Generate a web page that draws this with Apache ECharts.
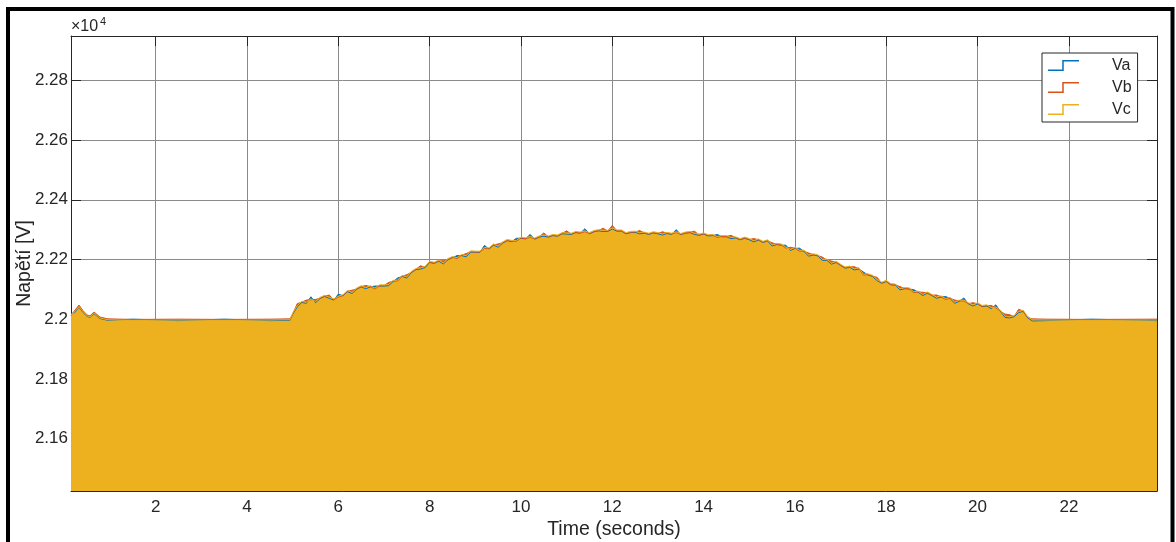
<!DOCTYPE html>
<html>
<head>
<meta charset="utf-8">
<script src="https://cdn.jsdelivr.net/npm/echarts@6/dist/echarts.min.js"></script>
<style>
  html, body { margin: 0; padding: 0; background: #ffffff; }
  #chart { width: 1176px; height: 542px; }
</style>
</head>
<body>
<div id="chart"></div>
<script>
// Three-phase voltage peaks over a 24 s run (volts).
const times = [
  0.145, 0.23, 0.32, 0.41, 0.5, 0.56, 0.65, 0.78, 0.95, 1.5, 2.5, 3.5, 4.5, 4.94,
  5.0, 5.1, 5.2, 5.3, 5.4, 5.5, 5.6, 5.7, 5.8, 5.9,
  6.0, 6.1, 6.2, 6.3, 6.4, 6.5, 6.6, 6.7, 6.8, 6.9,
  7.0, 7.1, 7.2, 7.3, 7.4, 7.5, 7.6, 7.7, 7.8, 7.9,
  8.0, 8.1, 8.2, 8.3, 8.4, 8.5, 8.6, 8.7, 8.8, 8.9,
  9.0, 9.1, 9.2, 9.3, 9.4, 9.5, 9.6, 9.7, 9.8, 9.9,
  10.0, 10.1, 10.2, 10.3, 10.4, 10.5, 10.6, 10.7, 10.8, 10.9,
  11.0, 11.1, 11.2, 11.3, 11.4, 11.5, 11.6, 11.7, 11.8, 11.9,
  12.0, 12.1, 12.2, 12.3, 12.4, 12.5, 12.6, 12.7, 12.8, 12.9,
  13.0, 13.1, 13.2, 13.3, 13.4, 13.5, 13.6, 13.7, 13.8, 13.9,
  14.0, 14.1, 14.2, 14.3, 14.4, 14.5, 14.6, 14.7, 14.8, 14.9,
  15.0, 15.1, 15.2, 15.3, 15.4, 15.5, 15.6, 15.7, 15.8, 15.9,
  16.0, 16.1, 16.2, 16.3, 16.4, 16.5, 16.6, 16.7, 16.8, 16.9,
  17.0, 17.1, 17.2, 17.3, 17.4, 17.5, 17.6, 17.7, 17.8, 17.9,
  18.0, 18.1, 18.2, 18.3, 18.4, 18.5, 18.6, 18.7, 18.8, 18.9,
  19.0, 19.1, 19.2, 19.3, 19.4, 19.5, 19.6, 19.7, 19.8, 19.9,
  20.0, 20.1, 20.2, 20.3, 20.4, 20.5, 20.6, 20.7, 20.8, 20.9,
  21.0, 21.1, 21.2,
  21.5, 22.5, 23.93
];

const vaValues = [
  22019, 22022, 22040, 22022, 22009, 22006, 22018, 22002, 21996, 22000, 21995, 22000, 21995, 21996,
  22016, 22041, 22056, 22053, 22075, 22055, 22069, 22076, 22070, 22064,
  22084, 22078, 22092, 22086, 22100, 22108, 22102, 22108, 22111, 22111,
  22111, 22112, 22126, 22138, 22143, 22138, 22156, 22166, 22168, 22173,
  22190, 22187, 22194, 22185, 22199, 22206, 22213, 22213, 22209, 22225,
  22224, 22224, 22247, 22235, 22248, 22241, 22255, 22263, 22260, 22271,
  22271, 22269, 22284, 22268, 22275, 22278, 22275, 22280, 22278, 22286,
  22285, 22284, 22290, 22288, 22303, 22286, 22293, 22296, 22294, 22294,
  22302, 22295, 22295, 22286, 22290, 22291, 22286, 22288, 22284, 22289,
  22286, 22282, 22287, 22284, 22300, 22283, 22288, 22290, 22284, 22281,
  22285, 22279, 22280, 22284, 22276, 22276, 22270, 22272, 22266, 22271,
  22266, 22259, 22265, 22257, 22262, 22245, 22250, 22248, 22248, 22230,
  22237, 22238, 22227, 22211, 22215, 22212, 22197, 22197, 22184, 22190,
  22180, 22171, 22174, 22165, 22168, 22158, 22148, 22143, 22129, 22120,
  22126, 22115, 22114, 22098, 22102, 22101, 22099, 22090, 22079, 22087,
  22079, 22070, 22074, 22076, 22069, 22053, 22060, 22071, 22051, 22044,
  22051, 22042, 22044, 22035, 22048, 22026, 22006, 22004, 22008, 22022,
  22026, 22004, 21994,
  21995, 22000, 21995
];

const vbValues = [
  22012, 22030, 22047, 22028, 22014, 22011, 22024, 22007, 22001, 21999, 22000, 21999, 22000, 22001,
  22017, 22052, 22057, 22064, 22065, 22066, 22070, 22077, 22081, 22065,
  22074, 22079, 22093, 22097, 22101, 22109, 22113, 22109, 22101, 22112,
  22112, 22123, 22127, 22128, 22144, 22149, 22157, 22167, 22179, 22174,
  22191, 22188, 22195, 22196, 22200, 22207, 22203, 22214, 22220, 22226,
  22225, 22225, 22237, 22236, 22249, 22252, 22256, 22264, 22261, 22261,
  22272, 22270, 22274, 22269, 22276, 22289, 22276, 22281, 22279, 22287,
  22296, 22285, 22291, 22289, 22293, 22287, 22294, 22297, 22305, 22295,
  22314, 22296, 22296, 22287, 22291, 22292, 22297, 22289, 22285, 22290,
  22287, 22293, 22288, 22285, 22290, 22284, 22289, 22291, 22295, 22282,
  22286, 22280, 22281, 22274, 22277, 22277, 22281, 22273, 22267, 22272,
  22267, 22270, 22266, 22258, 22263, 22256, 22251, 22249, 22238, 22241,
  22238, 22228, 22228, 22222, 22216, 22213, 22208, 22198, 22195, 22191,
  22181, 22172, 22175, 22176, 22169, 22148, 22149, 22144, 22140, 22121,
  22127, 22116, 22115, 22109, 22103, 22102, 22089, 22091, 22090, 22088,
  22080, 22081, 22075, 22066, 22070, 22064, 22061, 22061, 22052, 22055,
  22052, 22043, 22045, 22046, 22038, 22027, 22017, 22015, 22009, 22033,
  22027, 22005, 22001,
  22000, 21999, 22000
];

const vcValues = [
  22015, 22025, 22042, 22025, 22011, 22008, 22020, 22004, 21998, 21996, 21997, 21996, 21997, 21998,
  22020, 22045, 22060, 22057, 22068, 22059, 22073, 22080, 22074, 22068,
  22077, 22082, 22096, 22090, 22104, 22112, 22106, 22112, 22104, 22115,
  22115, 22116, 22130, 22131, 22147, 22142, 22160, 22170, 22172, 22177,
  22194, 22191, 22198, 22189, 22203, 22210, 22206, 22217, 22213, 22229,
  22228, 22228, 22240, 22239, 22252, 22245, 22259, 22267, 22264, 22264,
  22275, 22273, 22277, 22272, 22279, 22282, 22279, 22284, 22282, 22290,
  22289, 22288, 22294, 22292, 22296, 22290, 22297, 22300, 22298, 22298,
  22306, 22299, 22299, 22290, 22294, 22295, 22290, 22292, 22288, 22293,
  22290, 22286, 22291, 22288, 22293, 22287, 22292, 22294, 22288, 22285,
  22289, 22283, 22284, 22277, 22280, 22280, 22274, 22276, 22270, 22275,
  22270, 22263, 22269, 22261, 22266, 22249, 22254, 22252, 22241, 22234,
  22241, 22231, 22231, 22215, 22219, 22216, 22201, 22201, 22188, 22194,
  22184, 22175, 22178, 22169, 22172, 22151, 22152, 22147, 22133, 22124,
  22130, 22119, 22118, 22102, 22106, 22105, 22092, 22094, 22083, 22091,
  22083, 22074, 22078, 22069, 22073, 22057, 22064, 22064, 22055, 22048,
  22055, 22046, 22048, 22039, 22041, 22030, 22010, 22008, 22012, 22026,
  22030, 22008, 21998,
  21997, 21996, 21997
];

const seriesNames = ['Va', 'Vb', 'Vc'];
const seriesColors = ['#0072BD', '#D95319', '#EDB120'];
const seriesValues = [vaValues, vbValues, vcValues];

// Axis ranges and tick spacing
const timeRange = [0.145, 23.93];
const voltRange = [21424, 22949];
const timeStep = 2;
const voltStep = 200;

const FONT = '"Liberation Sans", Arial, Helvetica, sans-serif';
const INK = '#262626';
const GRID_GRAY = '#8a8a8a';
// Step-shaped legend glyph
const STEP_ICON = 'path://M0,9.5L14.25,9.5L14.25,0L31,0L31,1.5L15.75,1.5L15.75,11L0,11Z';

const chart = echarts.init(document.getElementById('chart'), null, { renderer: 'canvas' });

const tickStyle = { show: true, inside: true, length: 10, lineStyle: { color: INK, width: 1 } };
const lineStyle = { show: true, lineStyle: { color: INK, width: 1 } };

const option = {
  backgroundColor: '#ffffff',
  animation: false,
  grid: { left: 71, right: 19, top: 36, bottom: 51, containLabel: false, outerBoundsMode: 'none' },
  legend: {
    data: seriesNames,
    orient: 'vertical',
    left: 1042,
    top: 53,
    icon: STEP_ICON,
    itemWidth: 31,
    itemHeight: 11,
    itemGap: 6,
    padding: [4.5, 6, 4.5, 6],
    backgroundColor: '#ffffff',
    borderColor: INK,
    borderWidth: 1,
    borderRadius: 0,
    selectedMode: false,
    textStyle: { fontFamily: FONT, fontSize: 16, color: INK, lineHeight: 16, padding: [0, 0, 0, 28] }
  },
  xAxis: [
    {
      type: 'value',
      position: 'bottom',
      min: timeRange[0],
      max: timeRange[1],
      minInterval: timeStep,
      maxInterval: timeStep,
      name: 'Time (seconds)',
      nameLocation: 'middle',
      nameGap: 29,
      nameMoveOverlap: false,
      nameTextStyle: { fontFamily: FONT, fontSize: 19.5, color: INK },
      axisLine: lineStyle,
      axisTick: tickStyle,
      axisLabel: {
        fontFamily: FONT, fontSize: 17, color: INK, margin: 8,
        showMinLabel: false, showMaxLabel: false
      },
      splitLine: { show: true, lineStyle: { color: GRID_GRAY, width: 1 } }
    },
    {
      type: 'value',
      position: 'top',
      min: timeRange[0],
      max: timeRange[1],
      minInterval: timeStep,
      maxInterval: timeStep,
      axisLine: lineStyle,
      axisTick: tickStyle,
      axisLabel: { show: false },
      splitLine: { show: false }
    }
  ],
  yAxis: [
    {
      type: 'value',
      position: 'left',
      min: voltRange[0],
      max: voltRange[1],
      minInterval: voltStep,
      maxInterval: voltStep,
      name: 'Napětí [V]',
      nameLocation: 'middle',
      nameRotate: 90,
      nameGap: 36,
      nameMoveOverlap: false,
      nameTextStyle: { fontFamily: FONT, fontSize: 19.5, color: INK },
      axisLine: lineStyle,
      axisTick: tickStyle,
      axisLabel: {
        fontFamily: FONT, fontSize: 17, color: INK, margin: 3,
        showMinLabel: false, showMaxLabel: false,
        formatter: (v) => String(parseFloat((v / 1e4).toFixed(2)))
      },
      splitLine: { show: true, lineStyle: { color: GRID_GRAY, width: 1 } }
    },
    {
      type: 'value',
      position: 'right',
      min: voltRange[0],
      max: voltRange[1],
      minInterval: voltStep,
      maxInterval: voltStep,
      axisLine: lineStyle,
      axisTick: tickStyle,
      axisLabel: { show: false },
      splitLine: { show: false }
    }
  ],
  series: seriesNames.map((name, i) => ({
    type: 'line',
    name: name,
    xAxisIndex: 0,
    yAxisIndex: 0,
    data: times.map((t, j) => [t, seriesValues[i][j]]),
    symbol: 'none',
    showSymbol: false,
    sampling: 'none',
    clip: true,
    color: seriesColors[i],
    itemStyle: { color: seriesColors[i] },
    lineStyle: { color: seriesColors[i], width: 1 },
    areaStyle: { color: seriesColors[i], opacity: 1, origin: 'start' },
    emphasis: { disabled: true }
  })),
  graphic: [
    {
      type: 'rect',
      silent: true,
      z: 100,
      shape: { x: 8, y: 9, width: 1164.5, height: 600 },
      style: { fill: 'none', stroke: '#000000', lineWidth: 4 }
    },
    {
      type: 'text',
      x: 71,
      y: 18.5,
      silent: true,
      style: { text: '×10', fontFamily: FONT, fontSize: 16, fill: INK, align: 'left', verticalAlign: 'top' }
    },
    {
      type: 'text',
      x: 100,
      y: 16,
      silent: true,
      style: { text: '4', fontFamily: FONT, fontSize: 11, fill: INK, align: 'left', verticalAlign: 'top' }
    }
  ]
};

chart.setOption(option);
</script>
</body>
</html>
